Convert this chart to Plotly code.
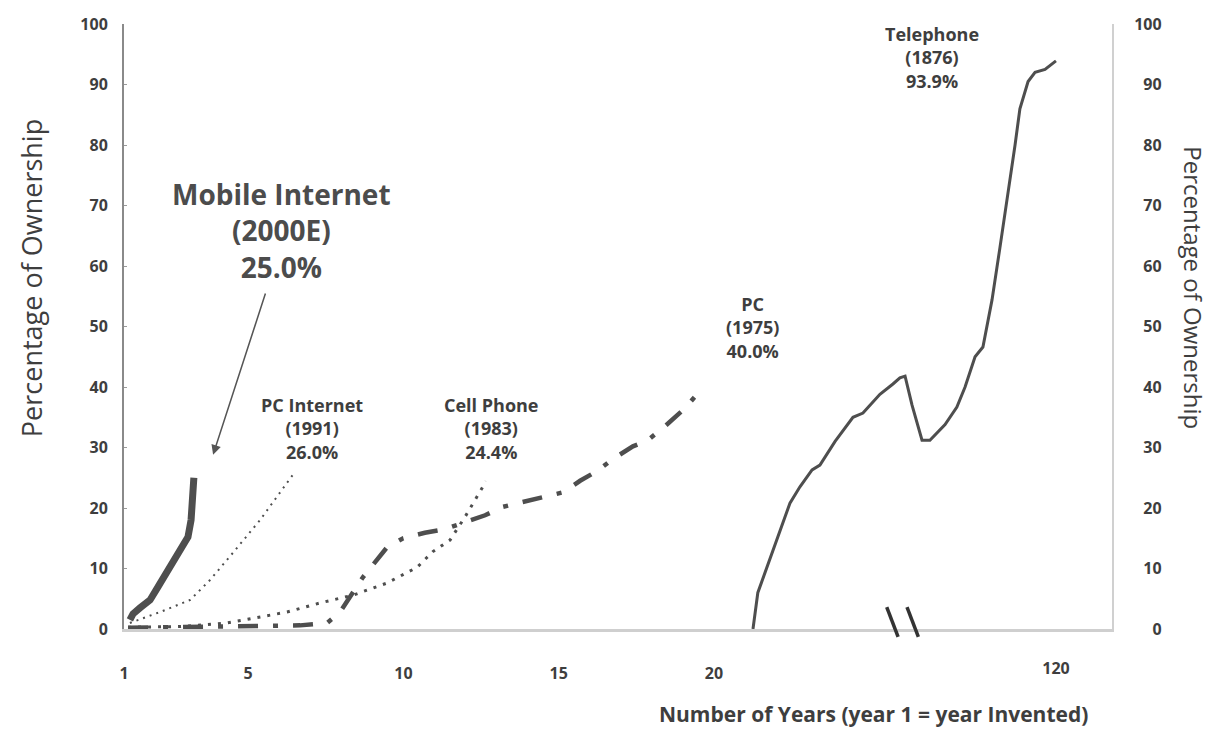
import plotly.graph_objects as go

# ---- data: years since invention vs. percentage of ownership ----
mobile_internet_years = [1.19, 1.29, 1.52, 1.84, 2.10, 2.38, 2.64, 2.80, 3.06, 3.16, 3.22, 3.25]
mobile_internet_pct = [1.5, 2.5, 3.5, 4.8, 7.0, 9.3, 11.5, 13.1, 15.2, 18.0, 21.3, 25.0]

pc_internet_years = [1.19, 2.16, 3.13, 3.77, 4.51, 5.38, 6.51]
pc_internet_pct = [1.0, 2.8, 4.8, 8.1, 12.6, 18.0, 26.0]

cell_phone_years = [1.13, 2.80, 4.32, 5.38, 6.25, 7.31, 8.38, 9.47, 10.44, 10.95, 11.50, 11.98, 12.66]
cell_phone_pct = [0.3, 0.4, 1.0, 2.0, 2.8, 4.3, 5.6, 7.6, 10.2, 12.8, 14.7, 18.5, 24.4]

pc_years = [1.13, 3.45, 5.38, 6.67, 7.54, 7.96, 8.70, 9.47, 9.99, 10.69, 11.34, 11.98,
            12.63, 13.21, 13.82, 14.49, 15.14, 15.69, 16.23, 16.75, 17.39, 17.84,
            18.42, 19.07, 19.65]
pc_pct = [0.2, 0.3, 0.5, 0.6, 1.0, 2.8, 8.6, 13.5, 15.0, 15.9, 16.5, 17.7,
          18.8, 20.2, 21.0, 21.8, 22.6, 24.5, 26.1, 28.1, 30.2, 31.1,
          33.5, 36.5, 40.0]

telephone_years = [20.0, 21.6, 32.2, 35.5, 39.5, 42.1, 47.1, 53.0, 56.3, 61.9, 66.2,
                   68.5, 70.2, 72.5, 75.8, 78.4, 83.4, 87.3, 90.0, 93.3, 95.9,
                   98.9, 101.5, 104.2, 106.5, 108.1, 110.8, 113.1, 116.4, 120.0]
telephone_pct = [0.0, 6.0, 20.8, 23.5, 26.3, 27.1, 31.0, 35.0, 35.7, 38.8, 40.5,
                 41.5, 41.8, 37.0, 31.2, 31.2, 33.8, 36.7, 40.0, 45.0, 46.6,
                 54.4, 63.0, 72.0, 80.0, 86.0, 90.5, 92.0, 92.5, 93.9]

early_ticks = [1, 5, 10, 15, 20]
late_ticks = [120]
pct_ticks = list(range(0, 101, 10))

INK = "#4e4e4e"
TEXT = "#3e3e3e"
FONT = "Open Sans"

fig = go.Figure()

fig.add_trace(go.Scatter(x=pc_years, y=pc_pct, mode="lines", name="PC",
                         line=dict(color=INK, width=4.5, dash="20px,15px,5px,15px")))
fig.add_trace(go.Scatter(x=cell_phone_years, y=cell_phone_pct, mode="lines", name="Cell Phone",
                         line=dict(color=INK, width=3, dash="3px,7px")))
fig.add_trace(go.Scatter(x=pc_internet_years, y=pc_internet_pct, mode="lines", name="PC Internet",
                         line=dict(color=INK, width=2, dash="2px,5px")))
fig.add_trace(go.Scatter(x=mobile_internet_years, y=mobile_internet_pct, mode="lines",
                         name="Mobile Internet", line=dict(color=INK, width=7)))
fig.add_trace(go.Scatter(x=telephone_years, y=telephone_pct, mode="lines", name="Telephone",
                         xaxis="x2", line=dict(color=INK, width=3)))
# invisible trace so the right-hand percentage axis is drawn
fig.add_trace(go.Scatter(x=[None], y=[None], yaxis="y2", showlegend=False, hoverinfo="skip"))

tick_font = dict(family=FONT, size=16, color=TEXT, weight="bold")

fig.update_layout(
    width=1214, height=729,
    margin=dict(l=124, r=102, t=24, b=100),
    paper_bgcolor="white", plot_bgcolor="white",
    showlegend=False,
    font=dict(family=FONT, color=TEXT),
    xaxis=dict(range=[1, 32.82], tickvals=early_ticks, ticktext=[str(t) for t in early_ticks],
               showgrid=False, zeroline=False, showline=True, linecolor="#cfcfcf", linewidth=3,
               ticks="", tickfont=tick_font, ticklabelstandoff=28),
    xaxis2=dict(overlaying="x", side="bottom", range=[-187.6, 138.5], tickvals=late_ticks,
                ticktext=[str(t) for t in late_ticks], showgrid=False, zeroline=False,
                showline=False, ticks="", tickfont=tick_font, ticklabelstandoff=28),
    yaxis=dict(range=[0, 100], tickvals=pct_ticks, showgrid=False, zeroline=False,
               showline=True, linecolor="#8a8a8a", linewidth=2, ticks="inside", ticklen=3,
               tickcolor="#9a9a9a", tickfont=tick_font, ticklabelstandoff=11),
    yaxis2=dict(overlaying="y", side="right", range=[0, 100], tickvals=pct_ticks,
                ticktext=[f"{t:>3}".replace(" ", "\u2007") for t in pct_ticks],
                showgrid=False, zeroline=False, showline=True, linecolor="#d0d0d0", linewidth=2,
                ticks="", tickfont=tick_font, ticklabelstandoff=17),
)

small = dict(family=FONT, size=18, color=TEXT, weight="bold")
labels = [
    dict(x=6.06, y=65.95, xref="x", text="Mobile Internet<br>(2000E)<br>25.0%",
         font=dict(family=FONT, size=28, color="#4c4c4c", weight="bold")),
    dict(x=7.05, y=33.1, xref="x", text="PC Internet<br>(1991)<br>26.0%", font=small),
    dict(x=12.85, y=33.1, xref="x", text="Cell Phone<br>(1983)<br>24.4%", font=small),
    dict(x=21.23, y=49.9, xref="x", text="PC<br>(1975)<br>40.0%", font=small),
    dict(x=79.1, y=94.4, xref="x2", text="Telephone<br>(1876)<br>93.9%", font=small),
]
for lab in labels:
    fig.add_annotation(yref="y", showarrow=False, xanchor="center", yanchor="middle",
                       align="center", **lab)

# arrow from the Mobile Internet label down to its curve
fig.add_annotation(x=3.87, y=28.8, xref="x", yref="y", ax=5.57, ay=55.7, axref="x", ayref="y",
                   text="", showarrow=True, arrowhead=2, arrowsize=1.3, arrowwidth=1.5,
                   arrowcolor="#555555")

# axis titles
fig.add_annotation(x=-0.0941, y=0.580, xref="paper", yref="paper", showarrow=False,
                   text="Percentage of Ownership", textangle=-90,
                   font=dict(family=FONT, size=27, color=TEXT),
                   xanchor="center", yanchor="middle")
fig.add_annotation(x=1.0825, y=0.564, xref="paper", yref="paper", showarrow=False,
                   text="Percentage of Ownership", textangle=90,
                   font=dict(family=FONT, size=24, color=TEXT),
                   xanchor="center", yanchor="middle")
fig.add_annotation(x=0.759, y=-0.141, xref="paper", yref="paper", showarrow=False,
                   text="Number of Years (year 1 = year Invented)",
                   font=dict(family=FONT, size=21, color=TEXT, weight="bold"),
                   xanchor="center", yanchor="middle")

# axis-break marks between the two time scales
for x0 in (0.772, 0.7925):
    fig.add_shape(type="line", xref="paper", yref="paper", x0=x0, y0=0.036,
                  x1=x0 + 0.0115, y1=-0.013, line=dict(color="#333333", width=3.5))

fig.write_html("out.html")
